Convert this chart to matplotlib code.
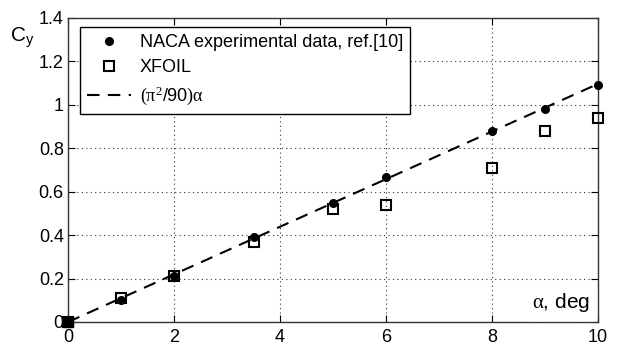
import matplotlib
matplotlib.use("Agg")
import matplotlib.pyplot as plt
import numpy as np

plt.rcParams['font.family'] = ['Liberation Sans', 'DejaVu Sans']
plt.rcParams['mathtext.fontset'] = 'custom'
plt.rcParams['mathtext.rm'] = 'Liberation Serif'
plt.rcParams['mathtext.it'] = 'Liberation Serif'

naca_alpha = [0, 1, 2, 3.5, 5, 6, 8, 9, 10]
naca_cy = [0.0, 0.10, 0.21, 0.39, 0.55, 0.67, 0.88, 0.98, 1.09]
xfoil_alpha = [0, 1, 2, 3.5, 5, 6, 8, 9, 10]
xfoil_cy = [0.0, 0.11, 0.21, 0.37, 0.52, 0.54, 0.71, 0.88, 0.94]
theory_alpha = [0, 10]
xticks = [0, 2, 4, 6, 8, 10]
yticks = [0, 0.2, 0.4, 0.6, 0.8, 1, 1.2, 1.4]
ytick_labels = ['0', '0.2', '0.4', '0.6', '0.8', '1', '1.2', '1.4']

fig = plt.figure(figsize=(6.21, 3.45), dpi=100)
ax = fig.add_axes([68/621, 23/345, 530/621, 304/345])

ax.plot(naca_alpha, naca_cy, 'o', color='black', markersize=5.5,
        label='NACA experimental data, ref.[10]', zorder=3, clip_on=False)
ax.plot(xfoil_alpha, xfoil_cy, 's', markerfacecolor='none', markeredgecolor='black',
        markeredgewidth=1.5, markersize=7, label='XFOIL', zorder=3, clip_on=False)
ax.plot(0, 0, 's', color='black', markersize=7, zorder=4, clip_on=False)
th = np.array(theory_alpha, dtype=float)
ax.plot(th, np.pi**2/90*th, '--', color='black', linewidth=1.5,
        dashes=(6, 4), label=r'$(\pi^2$/90$)\alpha$', zorder=2)

ax.set_xlim(0, 10)
ax.set_ylim(0, 1.4)
ax.set_xticks(xticks)
ax.set_yticks(yticks)
ax.set_yticklabels(ytick_labels)
ax.tick_params(direction='in', labelsize=13, length=5, top=True, right=True)
ax.tick_params(axis='x', pad=5)
ax.tick_params(axis='y', pad=3)
ax.grid(True, linestyle=(0, (1, 3)), color='#333333', linewidth=0.8)
for s in ax.spines.values():
    s.set_linewidth(1.0)
    s.set_color('#333333')

fig.text(22/621, (345-38)/345, r'C$_\mathregular{y}$', fontsize=15, ha='center', va='center')
ax.text(0.985, 0.025, r'$\alpha$, deg', transform=ax.transAxes, ha='right', va='bottom',
        fontsize=15, backgroundcolor='white')

leg = ax.legend(loc='upper left', bbox_to_anchor=(12/530, 1 - 9/304), fontsize=13,
                frameon=True, fancybox=False, edgecolor='black', framealpha=1,
                handlelength=2.4, borderpad=0.4, labelspacing=0.45, handletextpad=0.5,
                borderaxespad=0)
leg.get_frame().set_linewidth(1.0)

fig.savefig('out.png', dpi=100)
